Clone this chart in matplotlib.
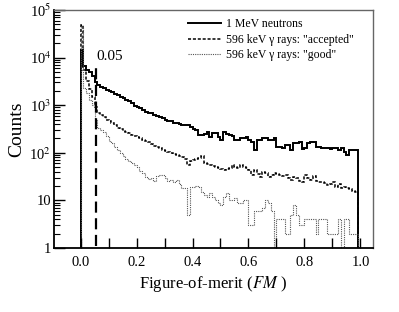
import numpy as np
import matplotlib
matplotlib.use("Agg")
import matplotlib.pyplot as plt
from matplotlib.ticker import FixedLocator, FuncFormatter, LogLocator, NullFormatter

plt.rcParams['font.family'] = ['Liberation Serif', 'DejaVu Serif']
plt.rcParams['mathtext.fontset'] = 'stix'

bin_width = 0.01
n_bins = 99

neutrons = [14500, 6800, 5600, 4900, 4200, 3100, 2650, 2400, 2250, 2100,
            2000, 1900, 1750, 1650, 1500, 1450, 1300, 1200, 1100, 950,
            920, 870, 780, 720, 700, 680, 620, 580, 560, 540,
            500, 470, 460, 430, 420, 400, 390, 385, 380, 350,
            320, 300, 235, 235, 250, 275, 215, 260, 255, 215,
            185, 270, 250, 235, 230, 185, 185, 205, 205, 215,
            185, 170, 115, 185, 190, 205, 205, 185, 185, 205,
            130, 130, 125, 145, 145, 115, 160, 160, 170, 120,
            125, 160, 165, 170, 130, 130, 125, 125, 125, 120,
            125, 125, 115, 125, 105, 90, 115, 115, 115]

gamma_accepted = [48000, 5500, 3300, 2200, 1500, 900, 700, 620, 560, 500,
                  470, 420, 380, 340, 310, 290, 275, 260, 240, 225,
                  215, 205, 190, 180, 165, 150, 140, 130, 125, 115,
                  110, 104, 100, 95, 90, 85, 82, 75, 55, 68,
                  70, 75, 78, 85, 62, 58, 55, 52, 50, 48,
                  46, 44, 45, 48, 55, 50, 48, 55, 50, 48,
                  44, 34, 44, 36, 31, 40, 38, 31, 34, 38,
                  36, 34, 33, 34, 30, 27, 31, 29, 25, 24,
                  34, 30, 27, 33, 25, 24, 24, 23, 21, 22,
                  24, 19, 22, 18, 19, 18, 17, 16, 15]

gamma_good = [45000, 2300, 1800, 1300, 1000, 500, 330, 300, 280, 230,
              180, 160, 130, 115, 100, 85, 75, 66, 60, 55,
              50, 42, 38, 31, 28, 30, 26, 33, 34, 34,
              30, 26, 27, 24, 27, 22, 18, 18, 5, 19,
              19, 20, 19, 15, 13, 12, 14, 12, 10, 9,
              8, 12, 14, 10, 10, 11, 9, 9, 10, 10,
              3, 3, 6, 6, 6, 7, 10, 9, 6, 0,
              4, 4, 4, 2, 2, 5, 8, 5, 3, 3,
              4, 4, 4, 4, 2, 4, 4, 4, 2, 2,
              2, 2, 4, 0, 4, 4, 2, 2, 2]

series_labels = ['1 MeV neutrons', '596 keV \u03b3 rays: "accepted"', '596 keV \u03b3 rays: "good"']
cut_value = 0.055
cut_label = '0.05'
cut_top = 7700

x_ticks = [0.0, 0.2, 0.4, 0.6, 0.8, 1.0]
x_tick_labels = ['0.0', '0.2', '0.4', '0.6', '0.8', '1.0']

edges = np.arange(n_bins + 1) * bin_width

fig = plt.figure(figsize=(3.99, 3.12), dpi=100)
ax = fig.add_axes([54/399, 64/312, 319/399, 238/312])

base = 0.1
def clipv(v):
    return np.maximum(np.asarray(v, float), base)

ax.stairs(clipv(neutrons), edges, baseline=base, color='black', lw=1.4,
          label=series_labels[0])
ax.stairs(clipv(gamma_accepted), edges, baseline=base, color='black', lw=1.1,
          linestyle=(0, (2, 1.2)), label=series_labels[1])
ax.stairs(clipv(gamma_good), edges, baseline=base, color='#555555', lw=0.8,
          linestyle=(0, (1, 1)), label=series_labels[2])

ax.plot([cut_value, cut_value], [base, cut_top], color='black', lw=1.6,
        linestyle=(0, (5, 2.5)))
ax.text(cut_value + 0.002, 1.05e4, cut_label, fontsize=11, ha='left', va='center')

ax.set_yscale('log')
ax.set_xlim(-0.095, 1.045)
ax.set_ylim(1, 1e5)

ax.xaxis.set_major_locator(FixedLocator(x_ticks))
ax.set_xticklabels(x_tick_labels)
ax.xaxis.set_minor_locator(FixedLocator([0.1, 0.3, 0.5, 0.7, 0.9]))
ax.tick_params(axis='x', which='both', direction='in', length=7, width=1,
               top=False, labelsize=10.5, pad=6)

def yfmt(v, pos):
    e = int(round(np.log10(v)))
    if e == 0:
        return '1'
    if e == 1:
        return '10'
    return r'10$^{%d}$' % e
ax.yaxis.set_major_locator(LogLocator(base=10, numticks=10))
ax.yaxis.set_major_formatter(FuncFormatter(yfmt))
ax.yaxis.set_minor_locator(LogLocator(base=10, subs=np.arange(2, 10), numticks=10))
ax.yaxis.set_minor_formatter(NullFormatter())
ax.tick_params(axis='y', which='major', direction='in', length=8, width=1,
               right=False, labelsize=10.5, pad=2)
ax.tick_params(axis='y', which='minor', direction='in', length=4, width=0.8,
               right=False)

for s in ['left', 'bottom']:
    ax.spines[s].set_linewidth(1.3)
    ax.spines[s].set_color('black')
for s in ['top', 'right']:
    ax.spines[s].set_linewidth(1.0)
    ax.spines[s].set_color('#666666')

ax.set_xlabel('Figure-of-merit ($FM$ )', fontsize=12, labelpad=3)
ax.set_ylabel('Counts', fontsize=14, labelpad=3)

ax.legend(loc='upper left', bbox_to_anchor=(0.42, 0.965), frameon=False,
          fontsize=8.5, handlelength=2.8, handletextpad=0.45,
          labelspacing=0.3, borderpad=0, borderaxespad=0)

fig.savefig('out.png', dpi=100)
